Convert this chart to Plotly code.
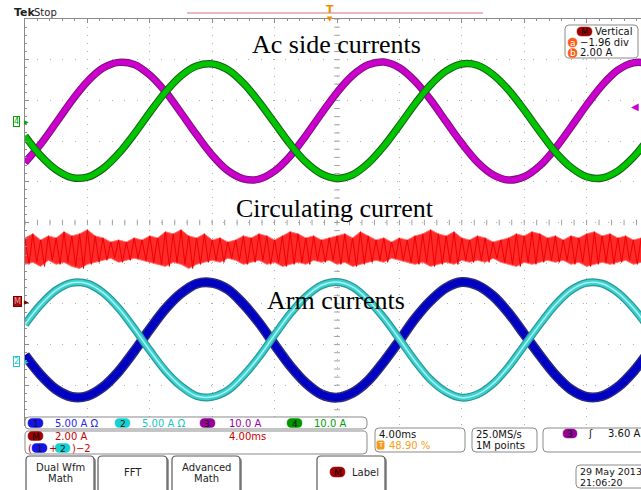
import plotly.graph_objects as go

W, H = 641, 490

# ---------------- data ----------------
t_ms = list(range(0, 41))  # time, ms (4.00 ms/div)

# Ch3 (magenta) ac side current, A  (10.0 A/div)
ch3_amp = [-10.2, -5.7, -0.4, 5.0, 9.7, 13.0, 14.4, 13.9, 11.3, 7.2,
           2.0, -3.4, -8.4, -12.2, -14.2, -14.3, -12.3, -8.6, -3.6, 1.8,
           7.0, 11.2, 13.8, 14.5, 13.1, 9.8, 5.2, -0.2, -5.5, -10.1,
           -13.2, -14.5, -13.7, -11.0, -6.7, -1.5, 3.9, 8.8, 12.5, 14.3, 14.2]
# Ch4 (green) ac side current, A  (10.0 A/div)
ch4_amp = [-3.7, -8.5, -12.0, -13.9, -13.8, -11.7, -8.0, -3.2, 2.1, 7.1,
           11.1, 13.5, 14.0, 12.6, 9.3, 4.7, -0.5, -5.7, -10.1, -13.0,
           -14.1, -13.2, -10.4, -6.2, -1.1, 4.2, 8.9, 12.3, 14.0, 13.7,
           11.4, 7.6, 2.7, -2.6, -7.6, -11.4, -13.7, -14.0, -12.3, -8.9, -4.2]
# Ch2 (cyan) arm current, A  (5.00 A/div)
ch2_amp = [4.5, 6.9, 8.7, 9.6, 9.5, 8.4, 6.5, 4.0, 1.3, -1.2,
           -3.1, -4.3, -4.4, -3.6, -1.8, 0.5, 3.2, 5.8, 7.9, 9.3,
           9.7, 9.1, 7.5, 5.3, 2.7, 0.0, -2.3, -3.8, -4.5, -4.1,
           -2.8, -0.7, 1.9, 4.5, 6.9, 8.7, 9.6, 9.5, 8.4, 6.5, 4.0]
# Ch1 (blue) arm current, A  (5.00 A/div)
ch1_amp = [0.7, -1.7, -3.5, -4.4, -4.3, -3.2, -1.3, 1.2, 3.9, 6.4,
           8.3, 9.5, 9.6, 8.8, 7.0, 4.7, 2.0, -0.6, -2.7, -4.1,
           -4.5, -3.9, -2.4, -0.1, 2.5, 5.2, 7.4, 9.0, 9.7, 9.3,
           8.0, 5.9, 3.3, 0.7, -1.7, -3.5, -4.4, -4.3, -3.2, -1.3, 1.2]
# Math M = (1+2)/2 circulating current envelope, A (2.00 A/div), every 0.5 ms
math_upper = [3.1, 3.3, 3.0, 3.2, 3.1, 3.4, 3.2, 3.3, 3.5, 3.2,
              3.1, 2.9, 3.0, 2.9, 3.1, 3.0, 3.2, 3.1, 3.4, 3.3,
              3.5, 3.2, 3.1, 3.3, 3.0, 3.1, 2.9, 3.0, 3.2, 3.1,
              3.3, 3.2, 3.0, 3.2, 3.4, 3.3, 3.1, 3.2, 3.0, 3.1,
              3.2, 3.3, 3.1, 3.4, 3.2, 3.0, 3.1, 2.9, 3.1, 3.0,
              3.2, 3.3, 3.5, 3.3, 3.2, 3.4, 3.1, 3.0, 3.2, 3.1,
              2.9, 3.0, 3.1, 3.3, 3.2, 3.4, 3.3, 3.1, 3.2, 3.0,
              3.2, 3.1, 3.3, 3.4, 3.2, 3.3, 3.1, 3.2, 3.0, 3.1, 3.2]
math_lower = [1.8, 1.9, 1.7, 2.0, 1.8, 1.9, 1.7, 1.6, 1.8, 1.9,
              2.0, 2.1, 1.9, 2.0, 2.1, 2.0, 1.9, 1.8, 1.7, 1.9,
              1.8, 1.6, 1.8, 1.9, 2.0, 1.9, 2.1, 2.0, 1.8, 1.9,
              2.0, 1.8, 1.9, 1.7, 1.8, 1.9, 1.8, 2.0, 1.9, 2.0,
              1.8, 1.9, 1.7, 1.8, 1.9, 2.0, 1.9, 2.1, 2.0, 1.9,
              1.8, 1.9, 1.7, 1.8, 1.9, 1.8, 2.0, 1.9, 2.0, 1.9,
              2.1, 1.9, 1.8, 1.7, 1.9, 1.8, 1.9, 2.0, 1.9, 2.0,
              1.8, 1.9, 1.7, 1.8, 1.9, 1.8, 1.9, 2.0, 1.8, 1.9, 1.9]
n_red = min(len(math_upper), len(math_lower))
t_red = [0.5 * i for i in range(n_red)]
trigger_level = 3.60      # A on ch3
trigger_pos_pct = 48.90   # %

# ---------------- geometry helpers ----------------
PLOT_L, PLOT_T, PLOT_B = 25, 19, 426
DIV_X = 62.4
DIV_Y = (PLOT_B - PLOT_T) / 10.0
MS_PER_DIV = 4.0
x_max = (W - PLOT_L) / DIV_X * MS_PER_DIV


def yr(ground_px, scale):
    return [(ground_px - PLOT_B) / DIV_Y * scale, (ground_px - PLOT_T) / DIV_Y * scale]


def P(x, y):
    return f"{x / W:.5f},{1 - y / H:.5f}"


def rrect(x0, y0, x1, y1, r, fill='white', line='#8a8a8a', lw=1):
    path = (f"M{P(x0 + r, y0)} L{P(x1 - r, y0)} Q{P(x1, y0)} {P(x1, y0 + r)} "
            f"L{P(x1, y1 - r)} Q{P(x1, y1)} {P(x1 - r, y1)} L{P(x0 + r, y1)} "
            f"Q{P(x0, y1)} {P(x0, y1 - r)} L{P(x0, y0 + r)} Q{P(x0, y0)} {P(x0 + r, y0)} Z")
    return dict(type='path', xref='paper', yref='paper', path=path, fillcolor=fill,
                line=dict(color=line, width=lw), layer='above')


shapes, annos = [], []


def txt(x, y, s, color='#111', size=10, anchor='left', family='DejaVu Sans'):
    annos.append(dict(x=x / W, y=1 - y / H, xref='paper', yref='paper', text=s,
                      showarrow=False, xanchor=anchor, yanchor='middle',
                      font=dict(family=family, size=size, color=color)))


def pill(x0, x1, yc, fill, label, tcolor='#111', h=9):
    shapes.append(rrect(x0, yc - h / 2, x1, yc + h / 2, h / 2, fill=fill, line=fill, lw=0.5))
    txt((x0 + x1) / 2, yc + 0.5, label, tcolor, 9, 'center')


fig = go.Figure()

# centre graticule ticks
fig.add_trace(go.Scatter(x=[0.8 * k for k in range(50)], y=[0] * 50, mode='markers', yaxis='y',
                         marker=dict(symbol='line-ns-open', size=4, color='#a0a0a0',
                                     line=dict(color='#a0a0a0', width=1)),
                         hoverinfo='skip'))
fig.add_trace(go.Scatter(x=[20] * 51, y=[0.2 * k - 5 for k in range(51)], mode='markers', yaxis='y',
                         marker=dict(symbol='line-ew-open', size=4, color='#a0a0a0',
                                     line=dict(color='#a0a0a0', width=1)),
                         hoverinfo='skip'))

# circulating current band
fig.add_trace(go.Scatter(x=t_red, y=math_lower[:n_red], yaxis='y4', mode='lines',
                         line=dict(color='rgba(255,110,110,0.9)', width=1)))
fig.add_trace(go.Scatter(x=t_red, y=math_upper[:n_red], yaxis='y4', mode='lines', fill='tonexty',
                         fillcolor='#ff2a2a', line=dict(color='rgba(255,110,110,0.9)', width=1)))
zig_x, zig_y = [], []
for i in range(n_red):
    zig_x += [t_red[i], t_red[i] + 0.25]
    zig_y += [math_upper[i], math_lower[i]]
fig.add_trace(go.Scatter(x=zig_x, y=zig_y, yaxis='y4', mode='lines',
                         line=dict(color='#f00000', width=1)))

# arm currents
fig.add_trace(go.Scatter(x=t_ms, y=ch1_amp, yaxis='y3', mode='lines',
                         line=dict(color='#2a2a80', width=10, shape='spline')))
fig.add_trace(go.Scatter(x=t_ms, y=ch1_amp, yaxis='y3', mode='lines',
                         line=dict(color='#0000c4', width=7, shape='spline')))
fig.add_trace(go.Scatter(x=t_ms, y=ch2_amp, yaxis='y3', mode='lines',
                         line=dict(color='#2a9898', width=8, shape='spline')))
fig.add_trace(go.Scatter(x=t_ms, y=ch2_amp, yaxis='y3', mode='lines',
                         line=dict(color='#3ccfcf', width=5.5, shape='spline')))
fig.add_trace(go.Scatter(x=t_ms, y=ch2_amp, yaxis='y3', mode='lines',
                         line=dict(color='#a8f4f0', width=1.5, shape='spline')))

# ac side currents
fig.add_trace(go.Scatter(x=t_ms, y=ch3_amp, yaxis='y2', mode='lines',
                         line=dict(color='#7a127a', width=7.5, shape='spline')))
fig.add_trace(go.Scatter(x=t_ms, y=ch3_amp, yaxis='y2', mode='lines',
                         line=dict(color='#cc00cc', width=5.5, shape='spline')))
fig.add_trace(go.Scatter(x=t_ms, y=ch4_amp, yaxis='y2', mode='lines',
                         line=dict(color='#155e15', width=7.5, shape='spline')))
fig.add_trace(go.Scatter(x=t_ms, y=ch4_amp, yaxis='y2', mode='lines',
                         line=dict(color='#00c400', width=5.5, shape='spline')))

# channel ground markers on the left edge (at each channel's 0 A level)
for yref, fillc, linec, lab, tc in [('y2', 'white', '#00a000', '4', '#00a000'),
                                    ('y4', '#a01010', '#7a0000', 'M', '#ff9a9a'),
                                    ('y3', 'white', '#20c8c8', '2', '#20c8c8')]:
    annos.append(dict(x=12.5 / W, y=0, xref='paper', yref=yref, text=lab, showarrow=False,
                      xanchor='left', yanchor='middle', bgcolor=fillc, bordercolor=linec,
                      borderwidth=1, borderpad=0,
                      font=dict(family='DejaVu Sans', size=8, color=tc)))
    annos.append(dict(x=21.5 / W, y=0, xref='paper', yref=yref, text='▶', showarrow=False,
                      xanchor='left', yanchor='middle',
                      font=dict(family='DejaVu Sans', size=6, color=linec)))
# trigger level marker (right edge)
annos.append(dict(x=1, y=trigger_level, xref='paper', yref='y2', text='◀', showarrow=False,
                  xanchor='right', yanchor='middle',
                  font=dict(family='DejaVu Sans', size=10, color='#cc00cc')))

# ---------------- decorations ----------------
# header
txt(12, 13, '<b>Tek</b>', '#222', 11)
txt(32, 13, 'Stop', '#222', 10)
shapes.append(dict(type='line', xref='paper', yref='paper', x0=187 / W, x1=483 / W,
                   y0=1 - 13 / H, y1=1 - 13 / H, line=dict(color='#d27878', width=1.2)))
trig_ms = trigger_pos_pct / 100 * 10 * MS_PER_DIV
annos.append(dict(x=trig_ms, y=1 - 9 / H, xref='x', yref='paper', text='<b>T</b>', showarrow=False,
                  font=dict(family='DejaVu Sans', size=11, color='#f08c00'), yanchor='middle'))
annos.append(dict(x=trig_ms, y=1 - 19 / H, xref='x', yref='paper', text='▼', showarrow=False,
                  font=dict(family='DejaVu Sans', size=7, color='#f08c00'), yanchor='middle'))

# overlay titles
txt(336, 45, 'Ac side currents', '#000', 26, 'center', 'Liberation Serif')
txt(335, 208, 'Circulating current', '#000', 26, 'center', 'Liberation Serif')
txt(336, 300, 'Arm currents', '#000', 26, 'center', 'Liberation Serif')

# vertical readout box (top right)
shapes.append(rrect(565, 25, 638, 58, 4))
pill(577, 592, 31.5, '#a00000', 'M', '#1a0000')
txt(593, 31.5, 'Vertical', '#111', 10)
pill(568, 577, 42.5, '#ff5a14', 'a', 'white', h=9)
txt(578, 42.5, '−1.96 div', '#111', 10)
pill(568, 577, 53, '#ff5a14', 'b', 'white', h=9)
txt(578, 53, '2.00 A', '#111', 10)

# readout row 1
shapes.append(rrect(25, 417, 367, 429, 4))
pill(28, 43, 423, '#1414e6', '1')
txt(53, 423, '5.00 A Ω', '#2a2ae6', 10)
pill(115, 130, 423, '#14d2d2', '2')
txt(140, 423, '5.00 A Ω', '#14c8c8', 10)
pill(200, 215, 423, '#960096', '3')
txt(227, 423, '10.0 A', '#a000a0', 10)
pill(287, 302, 423, '#009600', '4')
txt(312, 423, '10.0 A', '#00a000', 10)

# readout row 2 (math)
shapes.append(rrect(25, 431, 367, 454, 4))
pill(28, 43, 436, '#a00000', 'M')
txt(53, 436, '2.00 A', '#c80000', 10)
txt(227, 436, '4.00ms', '#c80000', 10)
txt(26, 448, '(', '#c80000', 10)
pill(32, 47, 448, '#1414e6', '1')
txt(46.5, 448, '+', '#c80000', 10)
pill(55, 70, 448, '#14d2d2', '2')
txt(70, 448, ')−2', '#c80000', 10)

# timebase box
shapes.append(rrect(375, 428, 465, 452, 4))
txt(377, 434, '4.00ms', '#111', 10)
shapes.append(rrect(377, 441, 384, 449, 1, fill='#f59a1a', line='#f59a1a'))
txt(380.5, 445, 'T', 'white', 7, 'center')
txt(387, 445, '48.90 %', '#f5a020', 10)

# sample rate box
shapes.append(rrect(472, 428, 537, 452, 4))
txt(474, 434, '25.0MS/s', '#111', 10)
txt(474, 445, '1M points', '#111', 10)

# trigger box
shapes.append(rrect(543, 428, 650, 452, 4))
pill(563, 577, 433.5, '#960096', '3')
txt(590, 433.5, 'ʃ', '#111', 10, 'center')
txt(606, 433.5, '3.60 A', '#111', 10)

# bottom soft buttons
for (bx0, bx1, lines) in [(26, 94, ['Dual Wfm', 'Math']), (98, 167, ['FFT']),
                          (172, 240, ['Advanced', 'Math']), (317, 385, None)]:
    shapes.append(rrect(bx0 + 1.5, 457.5, bx1 + 1.5, 500, 4, fill='#9a9a9a', line='#9a9a9a'))
    shapes.append(rrect(bx0, 456, bx1, 500, 4, fill='white', line='#5a5a5a', lw=1.2))
    if lines is None:
        continue
    if len(lines) == 2:
        txt((bx0 + bx1) / 2, 467, lines[0], '#222', 10, 'center')
        txt((bx0 + bx1) / 2, 478, lines[1], '#222', 10, 'center')
    else:
        txt((bx0 + bx1) / 2, 472, lines[0], '#222', 10, 'center')
pill(330, 345, 472, '#a00000', 'M', '#1a0000', h=10)
txt(350, 472, 'Label', '#222', 10)

# date box
shapes.append(rrect(576, 465, 650, 488, 4))
txt(578, 471.5, '29 May 2013', '#111', 9.5)
txt(578, 482, '21:06:20', '#111', 9.5)

ydom = [1 - PLOT_B / H, 1 - PLOT_T / H]
fig.update_layout(
    width=W, height=H, autosize=False, margin=dict(l=0, r=0, t=0, b=0),
    paper_bgcolor='white', plot_bgcolor='white', showlegend=False,
    shapes=shapes, annotations=annos,
    xaxis=dict(domain=[PLOT_L / W, 1], range=[0, x_max], side='top', showline=True,
               linecolor='#8c8c8c', linewidth=1, ticks='inside', ticklen=4, tickcolor='#8c8c8c',
               tick0=0, dtick=MS_PER_DIV, showticklabels=False, showgrid=True, gridcolor='#b0b0b0',
               griddash='1px,7.1px', zeroline=False,
               minor=dict(dtick=0.8, ticks='inside', ticklen=2, tickcolor='#8c8c8c', showgrid=False)),
    yaxis=dict(domain=ydom, range=[-5, 5], showline=True, linecolor='#8c8c8c', linewidth=1,
               ticks='inside', ticklen=4, tickcolor='#8c8c8c', tick0=0, dtick=1,
               showticklabels=False, showgrid=True, gridcolor='#b0b0b0', griddash='1px,11.4px',
               zeroline=False,
               minor=dict(dtick=0.2, ticks='inside', ticklen=2, tickcolor='#8c8c8c', showgrid=False)),
    yaxis2=dict(overlaying='y', range=yr(121, 10.0), visible=False),
    yaxis3=dict(overlaying='y', range=yr(361, 5.0), visible=False),
    yaxis4=dict(overlaying='y', range=yr(301, 2.0), visible=False),
)

fig.write_html('out.html', config={'displayModeBar': False},
               post_script="document.body.style.margin='0';document.body.style.overflow='hidden';")
